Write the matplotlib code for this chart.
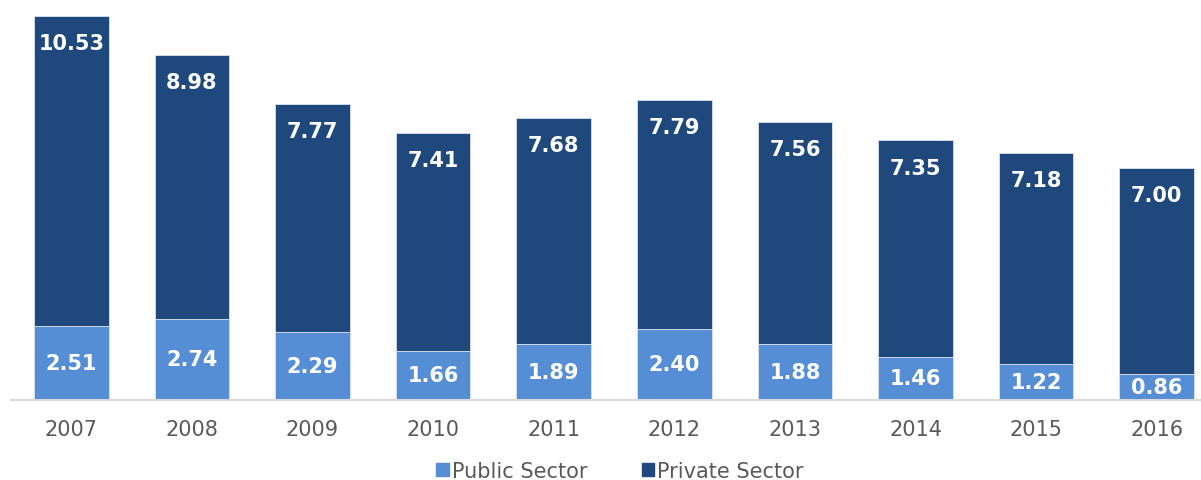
import matplotlib
matplotlib.use("Agg")
import matplotlib.pyplot as plt
from matplotlib.patches import Patch

years = ["2007", "2008", "2009", "2010", "2011", "2012", "2013", "2014", "2015", "2016"]
public = [2.51, 2.74, 2.29, 1.66, 1.89, 2.40, 1.88, 1.46, 1.22, 0.86]
private = [10.53, 8.98, 7.77, 7.41, 7.68, 7.79, 7.56, 7.35, 7.18, 7.00]

c_pub = "#558ED5"
c_priv = "#1F497D"

fig = plt.figure(figsize=(12.01, 4.81), dpi=100)
ax = fig.add_axes([11/1201, 1 - 400.5/481, 1206/1201, 400.5/481])
x = list(range(len(years)))
w = 0.62
ax.bar(x, public, w, color=c_pub, edgecolor="#D9E2F0", linewidth=0.6, zorder=2)
ax.bar(x, private, w, bottom=public, color=c_priv, edgecolor="#D9E2F0", linewidth=0.6, zorder=2)

for i in x:
    ax.text(i, public[i] / 2, f"{public[i]:.2f}", ha="center", va="center",
            color="white", fontsize=15, fontweight="bold")
    top = public[i] + private[i]
    ax.annotate(f"{private[i]:.2f}", (i, top), xytext=(0, -19.5), textcoords="offset points",
                ha="center", va="center", color="white", fontsize=15, fontweight="bold")

ax.set_xlim(-0.5, 9.5)
ax.set_ylim(0, 400.5 / 29.4)
ax.set_xticks(x)
ax.set_xticklabels(years, fontsize=15, color="#595959")
ax.tick_params(axis="x", length=0, pad=14)
ax.set_yticks([])
for s in ["top", "right", "left"]:
    ax.spines[s].set_visible(False)
ax.spines["bottom"].set_color("#D9D9D9")
ax.spines["bottom"].set_linewidth(1.5)

handles = [Patch(color=c_pub, label="Public Sector"), Patch(color=c_priv, label="Private Sector")]
fig.legend(handles=handles, loc="center", bbox_to_anchor=(620/1201, 1 - 472/481), ncol=2,
           frameon=False, fontsize=15, labelcolor="#595959", handlelength=0.6, handleheight=0.6,
           handletextpad=0.15, columnspacing=2.6)

fig.savefig("out.png", dpi=100)
